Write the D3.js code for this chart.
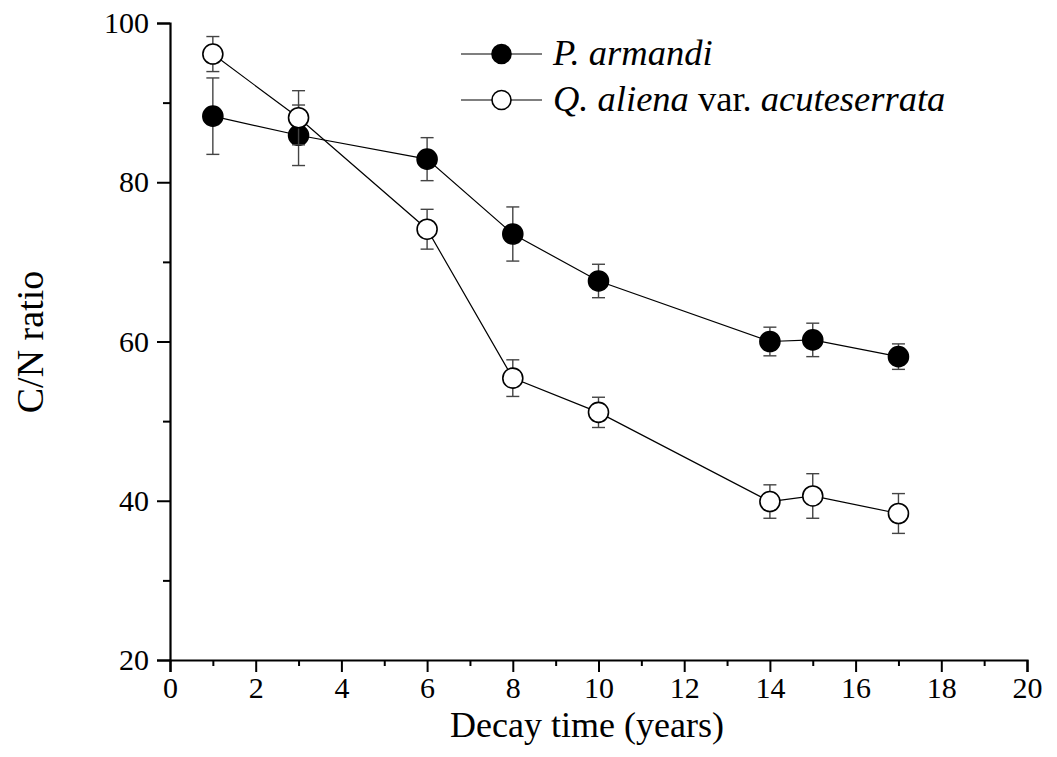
<!DOCTYPE html>
<html>
<head>
<meta charset="utf-8">
<script src="https://cdn.jsdelivr.net/npm/d3@7"></script>
<style>
  body { margin: 0; background: #fff; }
  svg { display: block; font-family: "Liberation Serif", "Times New Roman", serif; }
</style>
</head>
<body>
<svg id="chart" width="1057" height="757"></svg>
<script>
// data
var years = [1, 3, 6, 8, 10, 14, 15, 17];
var pArmandi = [88.3, 85.9, 82.9, 73.5, 67.6, 60.0, 60.2, 58.1];
var pArmandiErr = [4.8, 3.8, 2.7, 3.4, 2.1, 1.8, 2.1, 1.6];
var qAliena = [96.1, 88.1, 74.1, 55.4, 51.1, 39.9, 40.6, 38.4];
var qAlienaErr = [2.2, 3.4, 2.5, 2.3, 1.9, 2.1, 2.8, 2.5];

var xTicks = [0, 2, 4, 6, 8, 10, 12, 14, 16, 18, 20];
var xMinor = [1, 3, 5, 7, 9, 11, 13, 15, 17, 19];
var yTicks = [20, 40, 60, 80, 100];
var yMinor = [30, 50, 70, 90];

var svg = d3.select("#chart");

var x = d3.scaleLinear().domain([0, 20]).range([170, 1027]);
var y = d3.scaleLinear().domain([20, 100]).range([660, 23]);

var series = [
    { name: "P. armandi", values: pArmandi, err: pArmandiErr, fill: "#000" },
    { name: "Q. aliena", values: qAliena, err: qAlienaErr, fill: "#fff" }
];

// ---- axes
svg.append("g")
    .attr("transform", "translate(0,660)")
    .call(d3.axisBottom(x).tickValues(xTicks).tickSize(12).tickPadding(5).tickFormat(d3.format("d")));

svg.append("g")
    .attr("transform", "translate(0,660)")
    .call(d3.axisBottom(x).tickValues(xMinor).tickSize(6).tickFormat(""))
    .select(".domain").remove();

svg.append("g")
    .attr("transform", "translate(170,0)")
    .call(d3.axisLeft(y).tickValues(yTicks).tickSize(13).tickPadding(8).tickFormat(d3.format("d")));

svg.append("g")
    .attr("transform", "translate(170,0)")
    .call(d3.axisLeft(y).tickValues(yMinor).tickSize(7).tickFormat(""))
    .select(".domain").remove();

svg.selectAll("g").attr("font-family", null).attr("font-size", null);
svg.selectAll(".domain").attr("stroke", "#000").attr("stroke-width", 2.2);
svg.selectAll(".tick line").attr("stroke", "#000").attr("stroke-width", 2);
svg.selectAll(".tick text")
    .attr("fill", "#000")
    .style("font-size", "30px");

// axis titles
svg.append("text")
    .attr("x", 587)
    .attr("y", 737)
    .attr("text-anchor", "middle")
    .style("font-size", "36px")
    .text("Decay time (years)");

svg.append("text")
    .attr("transform", "translate(43,342) rotate(-90)")
    .attr("text-anchor", "middle")
    .style("font-size", "38px")
    .text("C/N ratio");

// ---- series
var line = d3.line()
    .x(function(d) { return x(d[0]); })
    .y(function(d) { return y(d[1]); });

series.forEach(function(s) {
    var pts = years.map(function(t, i) { return [t, s.values[i], s.err[i]]; });
    var g = svg.append("g");

    // error bars
    var eb = g.selectAll(".eb")
        .data(pts)
        .enter().append("g")
        .attr("stroke", "#444")
        .attr("stroke-width", 1.4);
    eb.append("line")
        .attr("x1", function(d) { return x(d[0]); })
        .attr("x2", function(d) { return x(d[0]); })
        .attr("y1", function(d) { return y(d[1] - d[2]); })
        .attr("y2", function(d) { return y(d[1] + d[2]); });
    eb.append("line")
        .attr("x1", function(d) { return x(d[0]) - 6.5; })
        .attr("x2", function(d) { return x(d[0]) + 6.5; })
        .attr("y1", function(d) { return y(d[1] + d[2]); })
        .attr("y2", function(d) { return y(d[1] + d[2]); });
    eb.append("line")
        .attr("x1", function(d) { return x(d[0]) - 6.5; })
        .attr("x2", function(d) { return x(d[0]) + 6.5; })
        .attr("y1", function(d) { return y(d[1] - d[2]); })
        .attr("y2", function(d) { return y(d[1] - d[2]); });

    g.append("path")
        .datum(pts)
        .attr("fill", "none")
        .attr("stroke", "#000")
        .attr("stroke-width", 1.2)
        .attr("d", line);

    g.selectAll("circle")
        .data(pts)
        .enter().append("circle")
        .attr("cx", function(d) { return x(d[0]); })
        .attr("cy", function(d) { return y(d[1]); })
        .attr("r", 10)
        .attr("fill", s.fill)
        .attr("stroke", "#000")
        .attr("stroke-width", 1.6);
});

// ---- legend
var legend = svg.append("g");
var rows = [54, 100];
rows.forEach(function(ry, i) {
    legend.append("line")
        .attr("x1", 461).attr("x2", 542)
        .attr("y1", ry).attr("y2", ry)
        .attr("stroke", "#000").attr("stroke-width", 1.2);
    legend.append("circle")
        .attr("cx", 501.5).attr("cy", ry).attr("r", 9.5)
        .attr("fill", series[i].fill)
        .attr("stroke", "#000").attr("stroke-width", 1.6);
});

legend.append("text")
    .attr("x", 553).attr("y", 65)
    .style("font-size", "36.5px")
    .style("font-style", "italic")
    .text("P. armandi");

var t2 = legend.append("text")
    .attr("x", 553).attr("y", 111)
    .style("font-size", "36.5px");
t2.append("tspan").style("font-style", "italic").text("Q. aliena");
t2.append("tspan").text(" var. ");
t2.append("tspan").style("font-style", "italic").text("acuteserrata");
</script>
</body>
</html>
